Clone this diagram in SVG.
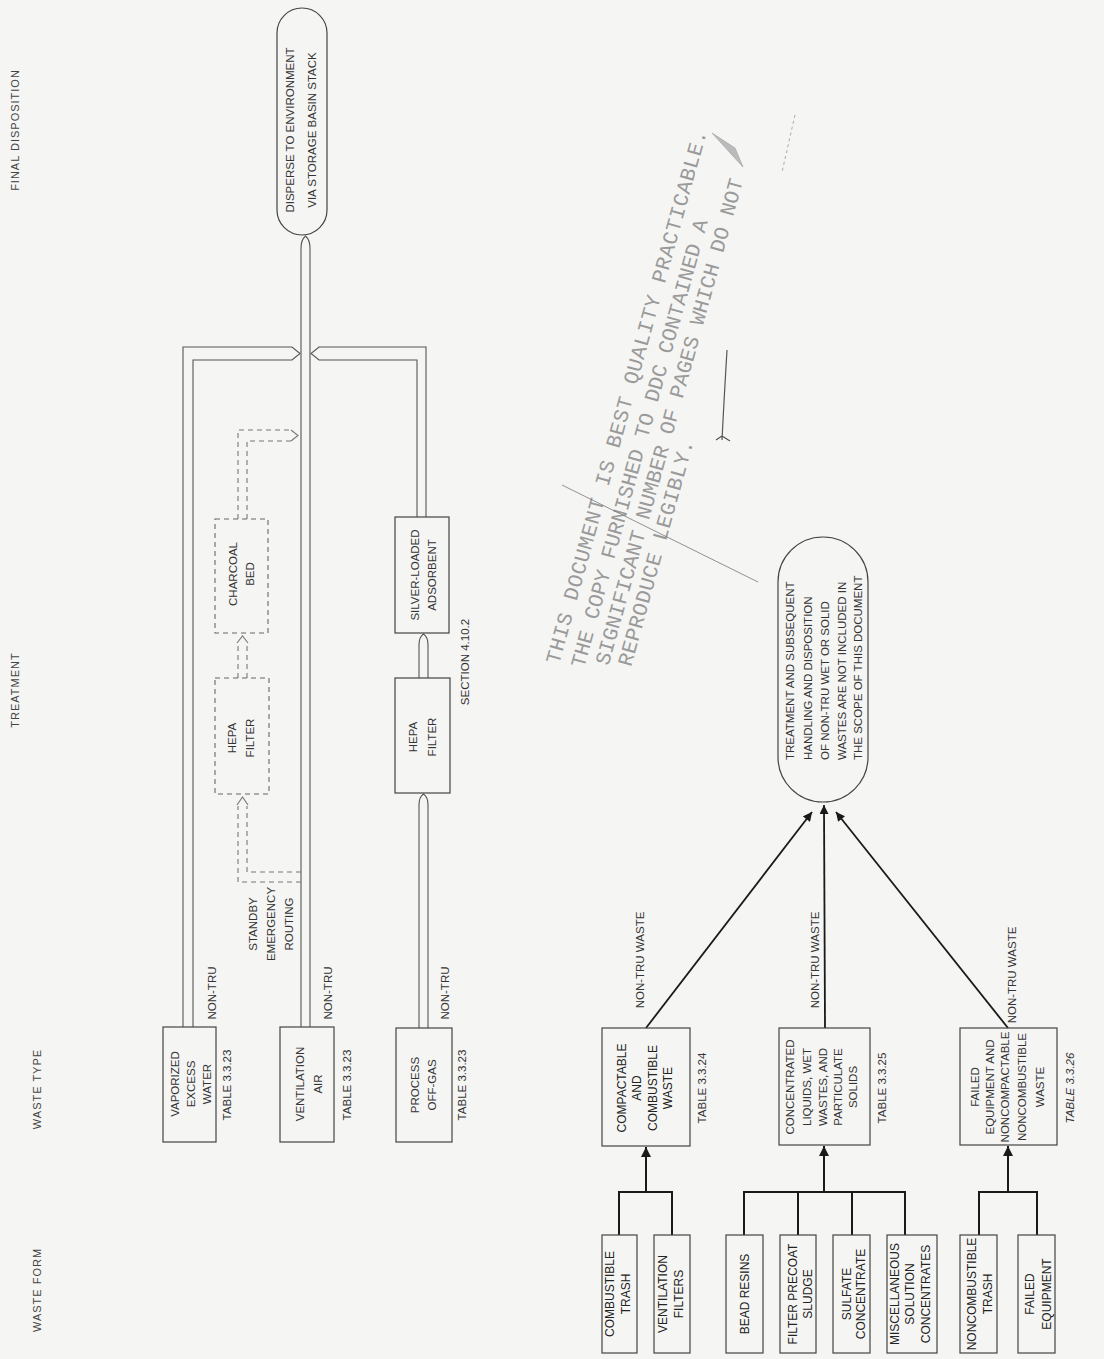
<svg xmlns="http://www.w3.org/2000/svg" width="1104" height="1359" viewBox="0 0 1104 1359">
<defs>
<style>
.t{font-family:"Liberation Sans",Arial,sans-serif;font-size:11.5px;fill:#333;text-anchor:middle}
.ts{text-anchor:start}
.h{font-size:11px;letter-spacing:1px;fill:#444}
.lt{font-size:12px;fill:#222}
.box{fill:none;stroke:#444;stroke-width:1.2}
.dbox{fill:none;stroke:#666;stroke-width:1.1;stroke-dasharray:5 4}
.pipe{fill:none;stroke:#555;stroke-width:1.1}
.dp{fill:none;stroke:#777;stroke-width:1.1;stroke-dasharray:5 4}
.ch{fill:none;stroke:#777;stroke-width:1.1}
.tree{fill:none;stroke:#1a1a1a;stroke-width:2}
.lb{fill:none;stroke:#1a1a1a;stroke-width:1.8}
.stamp{font-family:"Liberation Mono","Courier New",monospace;font-size:21px;fill:#9a9a9a}
</style>
<marker id="ah" viewBox="0 0 10 10" refX="10" refY="5" markerWidth="11" markerHeight="10" markerUnits="userSpaceOnUse" orient="auto"><path d="M0,0 L10,5 L0,10 z" fill="#1a1a1a"/></marker>
<marker id="ah2" viewBox="0 0 10 10" refX="10" refY="5" markerWidth="10" markerHeight="9" markerUnits="userSpaceOnUse" orient="auto"><path d="M0,0 L10,5 L0,10 z" fill="#1a1a1a"/></marker>
</defs>
<rect width="1104" height="1359" fill="#f5f5f3"/>

<g id="headers">
<text class="t h" x="19" y="130" transform="rotate(-90 19 130)">FINAL DISPOSITION</text>
<text class="t h" x="19" y="690" transform="rotate(-90 19 690)">TREATMENT</text>
<text class="t h" x="41" y="1089" transform="rotate(-90 41 1089)">WASTE TYPE</text>
<text class="t h" x="41" y="1290" transform="rotate(-90 41 1290)">WASTE FORM</text>
</g>

<g id="connectors">
<path class="pipe" d="M301,1027 V248 Q301,240 305.5,236 Q310,240 310,248 V1027"/>
<path class="pipe" d="M183,1027 V347 H292 L300,353.5 L292,360 H193 V1027"/>
<path class="pipe" d="M426,517 V347 H319 L311,353.5 L319,360 H417 V517"/>
<path class="pipe" d="M419,1028 V805 Q419,797 423.5,794 Q428,797 428,805 V1028"/>
<path class="pipe" d="M419,678 V645 Q419,637 423.5,634 Q428,637 428,645 V678"/>
<path class="dp" d="M301,872 H247 V806"/>
<path class="dp" d="M301,882 H238 V806"/>
<path class="ch" d="M237,805 L242.5,797 L248,805"/>
<path class="dp" d="M238,678 V644"/>
<path class="dp" d="M247,678 V644"/>
<path class="ch" d="M237,643 L242.5,636 L248,643"/>
<path class="dp" d="M238,519 V430 H291"/>
<path class="dp" d="M247,519 V441 H291"/>
<path class="ch" d="M291,430 L298,435.5 L291,441"/>
<path class="tree" d="M619,1235 V1192 H672 V1235"/>
<path class="tree" d="M646,1192 V1147" marker-end="url(#ah)"/>
<path class="tree" d="M744,1235 V1192 H905 V1235 M798,1192 V1235 M852,1192 V1235"/>
<path class="tree" d="M824,1192 V1146" marker-end="url(#ah)"/>
<path class="tree" d="M979,1235 V1192 H1037 V1235"/>
<path class="tree" d="M1008,1192 V1146" marker-end="url(#ah)"/>
<path class="lb" d="M646,1028 L812,812" marker-end="url(#ah2)"/>
<path class="lb" d="M825,1028 L824,805" marker-end="url(#ah2)"/>
<path class="lb" d="M1008,1028 L836,812" marker-end="url(#ah2)"/>
</g>

<g id="disperse">
<rect class="box" x="277" y="8" width="50" height="227" rx="25"/>
<text class="t" x="294" y="130" transform="rotate(-90 294 130)">DISPERSE TO ENVIRONMENT</text>
<text class="t" x="316" y="130" transform="rotate(-90 316 130)">VIA STORAGE BASIN STACK</text>
</g>

<g id="vaporized">
<rect class="box" x="163" y="1027" width="53" height="115"/>
<text class="t" x="179" y="1084" transform="rotate(-90 179 1084)">VAPORIZED</text>
<text class="t" x="195" y="1084" transform="rotate(-90 195 1084)">EXCESS</text>
<text class="t" x="211" y="1084" transform="rotate(-90 211 1084)">WATER</text>
<text class="t" x="231" y="1085" transform="rotate(-90 231 1085)">TABLE 3.3.23</text>
<text class="t" x="216" y="993" transform="rotate(-90 216 993)">NON-TRU</text>
</g>

<g id="ventilation-air">
<rect class="box" x="280" y="1027" width="54" height="115"/>
<text class="t" x="304" y="1084" transform="rotate(-90 304 1084)">VENTILATION</text>
<text class="t" x="322" y="1084" transform="rotate(-90 322 1084)">AIR</text>
<text class="t" x="351" y="1085" transform="rotate(-90 351 1085)">TABLE 3.3.23</text>
<text class="t" x="332" y="993" transform="rotate(-90 332 993)">NON-TRU</text>
</g>

<g id="standby">
<text class="t" x="257" y="924" font-size="11" transform="rotate(-90 257 924)">STANDBY</text>
<text class="t" x="275" y="924" font-size="11" transform="rotate(-90 275 924)">EMERGENCY</text>
<text class="t" x="293" y="924" font-size="11" transform="rotate(-90 293 924)">ROUTING</text>
</g>

<g id="process-off-gas">
<rect class="box" x="396" y="1028" width="56" height="114"/>
<text class="t" x="419" y="1085" transform="rotate(-90 419 1085)">PROCESS</text>
<text class="t" x="436" y="1085" transform="rotate(-90 436 1085)">OFF-GAS</text>
<text class="t" x="466" y="1085" transform="rotate(-90 466 1085)">TABLE 3.3.23</text>
<text class="t" x="449" y="993" transform="rotate(-90 449 993)">NON-TRU</text>
</g>

<g id="hepa-dashed">
<rect class="dbox" x="215" y="678" width="54" height="116"/>
<text class="t" x="236" y="738" transform="rotate(-90 236 738)">HEPA</text>
<text class="t" x="254" y="738" transform="rotate(-90 254 738)">FILTER</text>
</g>

<g id="charcoal-bed">
<rect class="dbox" x="215" y="519" width="53" height="114"/>
<text class="t" x="237" y="574" transform="rotate(-90 237 574)">CHARCOAL</text>
<text class="t" x="254" y="574" transform="rotate(-90 254 574)">BED</text>
</g>

<g id="hepa-filter">
<rect class="box" x="395" y="678" width="55" height="115"/>
<text class="t" x="417" y="737" transform="rotate(-90 417 737)">HEPA</text>
<text class="t" x="436" y="737" transform="rotate(-90 436 737)">FILTER</text>
<text class="t" x="469" y="662" transform="rotate(-90 469 662)">SECTION 4.10.2</text>
</g>

<g id="silver-loaded">
<rect class="box" x="395" y="517" width="54" height="116"/>
<text class="t" x="419" y="575" transform="rotate(-90 419 575)">SILVER-LOADED</text>
<text class="t" x="436" y="575" transform="rotate(-90 436 575)">ADSORBENT</text>
</g>

<g id="treatment-excluded">
<rect class="box" x="778" y="537" width="90" height="265" rx="45" ry="45"/>
<text class="t ts" x="794" y="760" transform="rotate(-90 794 760)">TREATMENT AND SUBSEQUENT</text>
<text class="t ts" x="812" y="760" transform="rotate(-90 812 760)">HANDLING AND DISPOSITION</text>
<text class="t ts" x="829" y="760" transform="rotate(-90 829 760)">OF NON-TRU WET OR SOLID</text>
<text class="t ts" x="846" y="760" transform="rotate(-90 846 760)">WASTES ARE NOT INCLUDED IN</text>
<text class="t ts" x="862" y="760" transform="rotate(-90 862 760)">THE SCOPE OF THIS DOCUMENT</text>
</g>

<g id="labels-nontru-waste">
<text class="t" x="644" y="960" transform="rotate(-90 644 960)">NON-TRU WASTE</text>
<text class="t" x="819" y="960" transform="rotate(-90 819 960)">NON-TRU WASTE</text>
<text class="t" x="1016" y="975" transform="rotate(-90 1016 975)">NON-TRU WASTE</text>
</g>

<g id="compactable">
<rect class="box" x="602" y="1028" width="88" height="118"/>
<text class="t lt" x="626" y="1088" transform="rotate(-90 626 1088)">COMPACTABLE</text>
<text class="t lt" x="641" y="1088" transform="rotate(-90 641 1088)">AND</text>
<text class="t lt" x="657" y="1088" transform="rotate(-90 657 1088)">COMBUSTIBLE</text>
<text class="t lt" x="672" y="1088" transform="rotate(-90 672 1088)">WASTE</text>
<text class="t" x="706" y="1088" transform="rotate(-90 706 1088)">TABLE 3.3.24</text>
</g>

<g id="concentrated">
<rect class="box" x="779" y="1028" width="91" height="117"/>
<text class="t" x="794" y="1087" transform="rotate(-90 794 1087)">CONCENTRATED</text>
<text class="t" x="811" y="1087" transform="rotate(-90 811 1087)">LIQUIDS, WET</text>
<text class="t" x="827" y="1087" transform="rotate(-90 827 1087)">WASTES, AND</text>
<text class="t" x="842" y="1087" transform="rotate(-90 842 1087)">PARTICULATE</text>
<text class="t" x="857" y="1087" transform="rotate(-90 857 1087)">SOLIDS</text>
<text class="t" x="886" y="1088" transform="rotate(-90 886 1088)">TABLE 3.3.25</text>
</g>

<g id="failed-noncompactable">
<rect class="box" x="960" y="1028" width="97" height="117"/>
<text class="t" x="979" y="1087" transform="rotate(-90 979 1087)">FAILED</text>
<text class="t" x="994" y="1087" transform="rotate(-90 994 1087)">EQUIPMENT AND</text>
<text class="t" x="1009" y="1087" transform="rotate(-90 1009 1087)">NONCOMPACTABLE</text>
<text class="t" x="1026" y="1087" transform="rotate(-90 1026 1087)">NONCOMBUSTIBLE</text>
<text class="t" x="1044" y="1087" transform="rotate(-90 1044 1087)">WASTE</text>
<text class="t" x="1074" y="1088" font-style="italic" transform="rotate(-90 1074 1088)">TABLE 3.3.26</text>
</g>

<g id="combustible-trash">
<rect class="box" x="602" y="1235" width="35" height="118"/>
<text class="t lt" x="614" y="1294" transform="rotate(-90 614 1294)">COMBUSTIBLE</text>
<text class="t lt" x="630" y="1294" transform="rotate(-90 630 1294)">TRASH</text>
</g>
<g id="ventilation-filters">
<rect class="box" x="654" y="1235" width="36" height="118"/>
<text class="t lt" x="667" y="1294" transform="rotate(-90 667 1294)">VENTILATION</text>
<text class="t lt" x="683" y="1294" transform="rotate(-90 683 1294)">FILTERS</text>
</g>
<g id="bead-resins">
<rect class="box" x="726" y="1235" width="37" height="118"/>
<text class="t lt" x="749" y="1294" transform="rotate(-90 749 1294)">BEAD RESINS</text>
</g>
<g id="filter-precoat">
<rect class="box" x="780" y="1235" width="36" height="118"/>
<text class="t lt" x="797" y="1294" transform="rotate(-90 797 1294)">FILTER PRECOAT</text>
<text class="t lt" x="812" y="1294" transform="rotate(-90 812 1294)">SLUDGE</text>
</g>
<g id="sulfate">
<rect class="box" x="833" y="1235" width="37" height="118"/>
<text class="t lt" x="851" y="1294" transform="rotate(-90 851 1294)">SULFATE</text>
<text class="t lt" x="865" y="1294" transform="rotate(-90 865 1294)">CONCENTRATE</text>
</g>
<g id="miscellaneous">
<rect class="box" x="887" y="1235" width="50" height="118"/>
<text class="t lt" x="899" y="1294" transform="rotate(-90 899 1294)">MISCELLANEOUS</text>
<text class="t lt" x="914" y="1294" transform="rotate(-90 914 1294)">SOLUTION</text>
<text class="t lt" x="930" y="1294" transform="rotate(-90 930 1294)">CONCENTRATES</text>
</g>
<g id="noncombustible-trash">
<rect class="box" x="960" y="1235" width="37" height="118"/>
<text class="t lt" x="976" y="1294" transform="rotate(-90 976 1294)">NONCOMBUSTIBLE</text>
<text class="t lt" x="992" y="1294" transform="rotate(-90 992 1294)">TRASH</text>
</g>
<g id="failed-equipment">
<rect class="box" x="1018" y="1235" width="37" height="118"/>
<text class="t lt" x="1034" y="1294" transform="rotate(-90 1034 1294)">FAILED</text>
<text class="t lt" x="1051" y="1294" transform="rotate(-90 1051 1294)">EQUIPMENT</text>
</g>

<g id="stamp">
<g transform="translate(559,665) rotate(-74.5)">
<text class="stamp" x="0" y="0" textLength="553" lengthAdjust="spacing">THIS DOCUMENT IS BEST QUALITY PRACTICABLE.</text>
<text class="stamp" x="3" y="25" textLength="464" lengthAdjust="spacing">THE COPY FURNISHED TO DDC CONTAINED A</text>
<text class="stamp" x="12" y="48" textLength="504" lengthAdjust="spacing">SIGNIFICANT NUMBER OF PAGES WHICH DO NOT</text>
<text class="stamp" x="17" y="70" textLength="234" lengthAdjust="spacing">REPRODUCE LEGIBLY.</text>
</g>
<path d="M562,485 L758,582" stroke="#777" stroke-width="0.8" fill="none"/>
<path d="M727,350 Q724,400 722,440 M716,440 L722,436 L730,441" stroke="#555" stroke-width="1.2" fill="none"/>
<path d="M712,133 L743,167 L735,148 z" fill="#bbb" stroke="#aaa" stroke-width="0.8"/>
<path d="M795,115 L782,172" stroke="#aaa" stroke-width="1" stroke-dasharray="3 3" fill="none"/>
</g>
</svg>
